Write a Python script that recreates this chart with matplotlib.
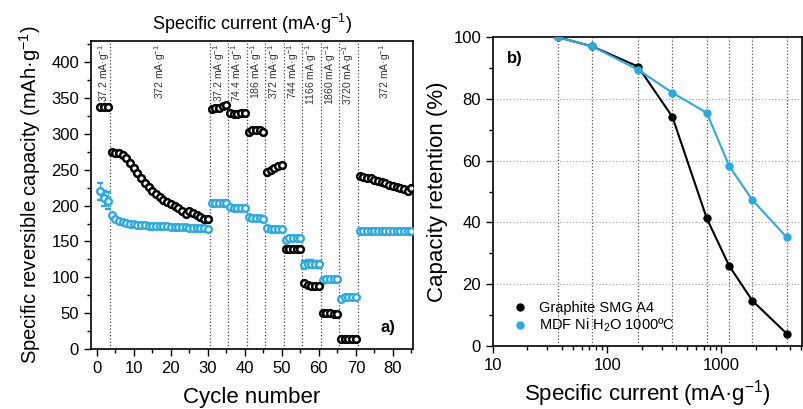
import numpy as np
import matplotlib
matplotlib.use('Agg')
import matplotlib.pyplot as plt
from matplotlib.ticker import MultipleLocator, LogLocator, NullFormatter

plt.rcParams['font.family'] = ['Liberation Sans', 'DejaVu Sans']
plt.rcParams['mathtext.fontset'] = 'custom'
plt.rcParams['mathtext.rm'] = 'Liberation Sans'
plt.rcParams['mathtext.it'] = 'Liberation Sans:italic'
plt.rcParams['mathtext.bf'] = 'Liberation Sans:bold'

# =============================================================================
# Data
# =============================================================================

graphite_cap = [
    338, 338, 338,
    275, 274, 273, 271, 266, 259, 252, 245, 238, 232, 226, 221, 216, 212, 208,
    205, 202, 199, 196, 193, 189, 193, 190, 187, 184, 182, 181,
    335, 336, 337, 339, 340,
    329, 328, 328, 329, 329,
    303, 306, 306, 305, 303,
    247, 250, 252, 255, 257,
    139, 140, 140, 140, 140,
    92, 89, 88, 88, 88,
    50, 50, 50, 49, 49,
    14, 14, 14, 14, 14,
    242, 240, 239, 238, 236, 235, 233, 231, 229, 228, 226, 224, 223, 220, 224,
]

mdf_cap = [
    220, 210, 207,
    187, 182, 179, 177, 176, 175, 174, 173.5, 173, 172.5, 172, 172, 171.5, 171,
    171, 171, 170.5, 170, 170, 169.5, 169.5, 169, 169, 169, 168.5, 168.5, 168,
    203, 204, 204, 204, 204,
    198, 197, 197, 197, 197,
    184, 183, 183, 183, 182,
    169, 168, 168, 168, 167,
    152, 155, 155, 155, 155,
    117, 119, 119, 118, 118,
    96, 97, 97, 97, 97,
    70, 72, 72, 72, 72,
    165, 165, 165, 165, 164.5, 164.5, 164.5, 164.5, 164, 164, 164, 164, 164, 164, 164,
]

mdf_err = [12, 10, 12] + [2] * 52 + [5] * 5 + [2] * 25

cycles = np.arange(1, len(graphite_cap) + 1)

step_bounds = [3.5, 30.5, 35.5, 40.5, 45.5, 50.5, 55.5, 60.5, 65.5, 70.5]
step_labels = ['37.2', '372', '37.2', '74.4', '186', '372', '744', '1166',
               '1860', '3720', '372']

rate_current = [37.2, 74.4, 186, 372, 744, 1166, 1860, 3720]
graphite_ret = [100, 97, 90.5, 74.2, 41.3, 26, 14.7, 4]
mdf_ret = [100, 97, 89.5, 82, 75.5, 58.3, 47.3, 35.2]

BLUE = '#29abe2'
UNIT = 'mA·g$^{-1}$'

# =============================================================================
# Figure
# =============================================================================

fig = plt.figure(figsize=(8.04, 4.09), dpi=100)
ax1 = fig.add_axes([0.113, 0.147, 0.401, 0.753])
ax2 = fig.add_axes([0.613, 0.154, 0.385, 0.755])

# --- a) cycling at different rates ---
for xb in step_bounds:
    ax1.axvline(xb, color='#444444', linestyle=':', linewidth=0.9, zorder=1)

ax1.errorbar(cycles, mdf_cap, yerr=mdf_err, fmt='o', color=BLUE, ms=4.8,
             mfc='white', mec=BLUE, mew=1.7, elinewidth=0.8, capsize=2, zorder=3)
ax1.plot(cycles, graphite_cap, 'o', ms=4.8, mfc='white', mec='black',
         mew=1.8, zorder=4)

edges = [0.5] + step_bounds + [85.5]
for i, lab in enumerate(step_labels):
    xc = (edges[i] + edges[i + 1]) / 2
    ax1.text(xc, 426, lab + ' ' + UNIT, rotation=90, ha='center',
             va='top', fontsize=7.5, color='#333333')

ax1.set_xlim(-1.6, 85.5)
ax1.set_ylim(0, 430)
ax1.xaxis.set_major_locator(MultipleLocator(10))
ax1.xaxis.set_minor_locator(MultipleLocator(5))
ax1.yaxis.set_major_locator(MultipleLocator(50))
ax1.yaxis.set_minor_locator(MultipleLocator(25))
ax1.set_xlabel('Cycle number', fontsize=16, labelpad=8)
ax1.set_ylabel('Specific reversible capacity (mAh·g$^{-1}$)', fontsize=14.5,
               labelpad=6)
ax1.set_title('Specific current (' + UNIT + ')', fontsize=13, pad=8)
ax1.text(0.92, 0.07, 'a)', transform=ax1.transAxes, fontsize=12,
         fontweight='bold', ha='center', va='center')

# --- b) capacity retention ---
for xv in rate_current:
    ax2.axvline(xv, color='#555555', linestyle=':', linewidth=0.9, zorder=1)
for yv in [20, 40, 60, 80]:
    ax2.axhline(yv, color='#aaaaaa', linestyle=':', linewidth=0.9, zorder=1)

ax2.plot(rate_current, graphite_ret, '-o', color='black', lw=1.5, ms=5,
         mfc='black', mec='black', zorder=3, label='Graphite SMG A4')
ax2.plot(rate_current, mdf_ret, '-o', color=BLUE, lw=1.5, ms=5,
         mfc=BLUE, mec=BLUE, zorder=3, label='MDF Ni H$_2$O 1000ºC')

ax2.set_xscale('log')
ax2.set_xlim(10, 5100)
ax2.set_ylim(0, 100)
ax2.xaxis.set_minor_locator(LogLocator(base=10, subs=np.arange(2, 10)))
ax2.xaxis.set_minor_formatter(NullFormatter())
ax2.set_xticks([10, 100, 1000])
ax2.set_xticklabels(['10', '100', '1000'])
ax2.yaxis.set_major_locator(MultipleLocator(20))
ax2.yaxis.set_minor_locator(MultipleLocator(10))
ax2.set_xlabel('Specific current (' + UNIT + ')', fontsize=16, labelpad=4)
ax2.set_ylabel('Capacity retention (%)', fontsize=16)
ax2.text(0.07, 0.93, 'b)', transform=ax2.transAxes, fontsize=12,
         fontweight='bold', ha='center', va='center')

leg_handles = [
    plt.Line2D([], [], linestyle='none', marker='o', ms=5, color='black'),
    plt.Line2D([], [], linestyle='none', marker='o', ms=5, color=BLUE),
]
ax2.legend(leg_handles, ['Graphite SMG A4', 'MDF Ni H$_2$O 1000ºC'],
           loc='lower left', bbox_to_anchor=(0.035, 0.01), frameon=False,
           fontsize=10.5, handlelength=1.0, handletextpad=0.8,
           labelspacing=0.1, borderaxespad=0.2)

for ax in (ax1, ax2):
    ax.tick_params(which='major', direction='out', length=5, width=1,
                   labelsize=12)
    ax.tick_params(which='minor', direction='out', length=3, width=1)
    for sp in ax.spines.values():
        sp.set_linewidth(1.2)

fig.savefig('out.png', dpi=100)
